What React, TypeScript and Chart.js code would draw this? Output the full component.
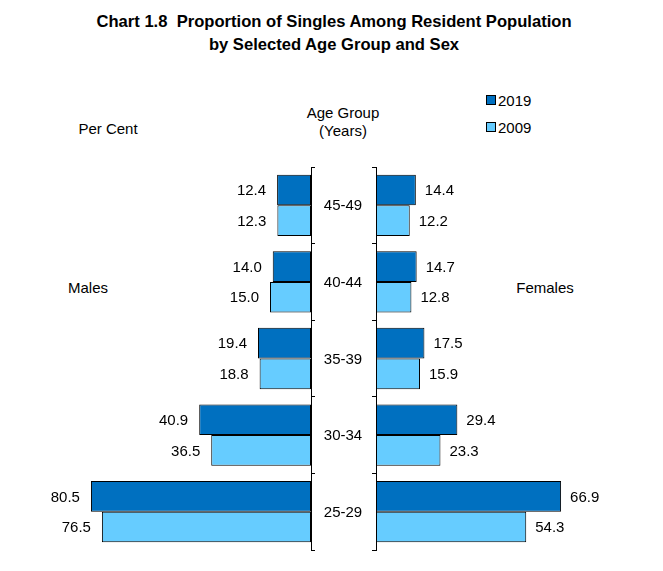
import React, { useEffect, useRef } from 'react';
import { Chart, registerables } from 'chart.js';

Chart.register(...registerables);

const FONT = 'Arial, "Liberation Sans", Helvetica, sans-serif';

const ageGroups = ['45-49', '40-44', '35-39', '30-34', '25-29'];
const seriesLabels = ['2019', '2009'];
const seriesColors = ['#0070C0', '#66CCFF'];
const males2019 = [12.4, 14.0, 19.4, 40.9, 80.5];
const males2009 = [12.3, 15.0, 18.8, 36.5, 76.5];
const females2019 = [14.4, 14.7, 17.5, 29.4, 66.9];
const females2009 = [12.2, 12.8, 15.9, 23.3, 54.3];
const axisMax = 90;

type Side = 'left' | 'right';

function SideChart({ side }: { side: Side }) {
  const ref = useRef<HTMLCanvasElement | null>(null);
  const isLeft = side === 'left';
  const width = isLeft ? 372 : 291;
  const height = 420;

  useEffect(() => {
    if (!ref.current) return;
    const values = isLeft ? [males2019, males2009] : [females2019, females2009];

    const labelPlugin = {
      id: 'valueLabels' + side,
      afterDatasetsDraw(chart: any) {
        const ctx = chart.ctx;
        ctx.save();
        ctx.font = `15px ${FONT}`;
        ctx.fillStyle = '#000';
        ctx.textBaseline = 'middle';
        chart.data.datasets.forEach((ds: any, di: number) => {
          const meta = chart.getDatasetMeta(di);
          meta.data.forEach((bar: any, i: number) => {
            const txt = Number(ds.data[i]).toFixed(1);
            if (isLeft) {
              ctx.textAlign = 'right';
              ctx.fillText(txt, bar.x - 11, bar.y + 1);
            } else {
              ctx.textAlign = 'left';
              ctx.fillText(txt, bar.x + 9, bar.y + 1);
            }
          });
        });
        if (isLeft) {
          const yScale = chart.scales.y;
          ctx.textAlign = 'center';
          chart.data.labels.forEach((lab: string, i: number) => {
            ctx.fillText(lab, chart.chartArea.right + 32, yScale.getPixelForValue(i) + 1);
          });
        }
        ctx.restore();
      },
    };

    const chart = new Chart(ref.current, {
      type: 'bar',
      data: {
        labels: ageGroups,
        datasets: seriesLabels.map((lab, k) => ({
          label: lab,
          data: values[k],
          backgroundColor: seriesColors[k],
          borderColor: '#000',
          borderWidth: 1,
          borderSkipped: false,
          categoryPercentage: 0.8,
          barPercentage: 1,
        })),
      },
      options: {
        indexAxis: 'y',
        responsive: false,
        animation: false,
        devicePixelRatio: 1,
        layout: {
          padding: isLeft
            ? { left: 65, right: 57, top: 17, bottom: 20 }
            : { left: 0, right: 38, top: 17, bottom: 20 },
        },
        plugins: {
          legend: { display: false },
          tooltip: { enabled: false },
          title: { display: false },
        },
        scales: {
          x: {
            display: false,
            min: 0,
            max: axisMax,
            reverse: isLeft,
          },
          y: {
            position: isLeft ? 'right' : 'left',
            grid: {
              display: true,
              drawOnChartArea: false,
              drawTicks: true,
              tickLength: 4,
              color: '#000',
              lineWidth: 1,
              offset: true,
            },
            border: { display: true, color: '#000', width: 1 },
            ticks: { display: false },
          },
        },
      },
      plugins: [labelPlugin],
    } as any);
    return () => chart.destroy();
  }, [side]);

  return (
    <canvas
      ref={ref}
      width={width}
      height={height}
      style={{
        position: 'absolute',
        left: isLeft ? 0 : 372,
        top: 150,
        width,
        height,
      }}
    />
  );
}

function Txt({ x, y, children, size = 15, bold = false }: any) {
  return (
    <div
      style={{
        position: 'absolute',
        left: x,
        top: y,
        transform: 'translate(-50%, -50%)',
        whiteSpace: 'nowrap',
        fontSize: size,
        fontWeight: bold ? 700 : 400,
        lineHeight: 1,
        textAlign: 'center',
      }}
    >
      {children}
    </div>
  );
}

export default function App() {
  return (
    <div
      style={{
        position: 'absolute',
        left: 0,
        top: 0,
        width: 663,
        height: 571,
        background: '#fff',
        fontFamily: FONT,
        color: '#000',
        overflow: 'hidden',
      }}
    >
      <Txt x={334} y={22} size={16.6} bold>
        Chart 1.8&nbsp;&nbsp;Proportion of Singles Among Resident Population
      </Txt>
      <Txt x={334} y={45} size={16.6} bold>
        by Selected Age Group and Sex
      </Txt>
      <Txt x={108} y={128}>Per Cent</Txt>
      <Txt x={343} y={112}>Age Group</Txt>
      <Txt x={343} y={130}>(Years)</Txt>
      <Txt x={88} y={287}>Males</Txt>
      <Txt x={545} y={287}>Females</Txt>
      {seriesLabels.map((lab, k) => (
        <div
          key={lab}
          style={{
            position: 'absolute',
            left: 486,
            top: 100 + k * 27 - 9,
            height: 18,
            display: 'flex',
            alignItems: 'center',
            fontSize: 15,
          }}
        >
          <span
            style={{
              display: 'inline-block',
              width: 8,
              height: 8,
              background: seriesColors[k],
              border: '1px solid #000',
              marginRight: 2,
            }}
          />
          <span>{lab}</span>
        </div>
      ))}
      <SideChart side="left" />
      <SideChart side="right" />
    </div>
  );
}
